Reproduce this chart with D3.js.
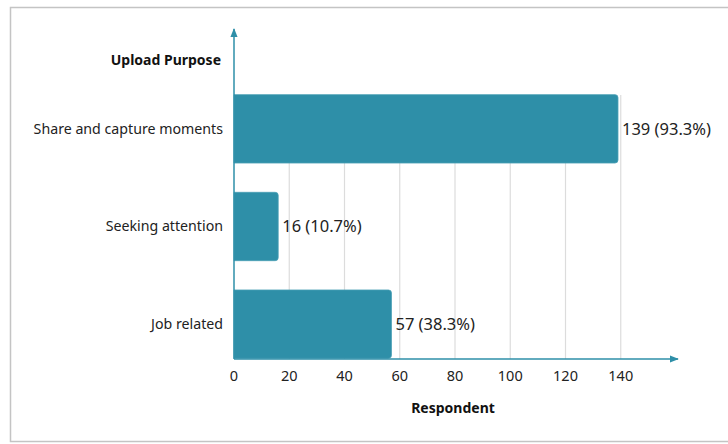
<!DOCTYPE html>
<html>
<head>
<meta charset="utf-8">
<script src="https://cdn.jsdelivr.net/npm/d3@7"></script>
<style>
  html, body { margin: 0; padding: 0; background: #fff; }
  svg { display: block; font-family: 'Noto Sans', sans-serif; }
</style>
</head>
<body>
<script>
const categories = ["Share and capture moments", "Seeking attention", "Job related"];
const counts = [139, 16, 57];
const percents = ["93.3%", "10.7%", "38.3%"];
const tickValues = [0, 20, 40, 60, 80, 100, 120, 140];

const W = 728, H = 444;
const svg = d3.select("body").append("svg").attr("width", W).attr("height", H);

// frame
svg.append("rect")
  .attr("x", 10.5).attr("y", 7.5).attr("width", 730).attr("height", 434)
  .attr("fill", "none").attr("stroke", "#c4c4c4").attr("stroke-width", 1.5);

const x0 = 234, yBottom = 359;
const x = d3.scaleLinear().domain([0, 160]).range([x0, 676]);
const y = d3.scaleBand().domain(categories).range([80, 373]).paddingInner(0.3).paddingOuter(0.15);

const teal = "#2e8fa8";
const g = svg.append("g");

// gridlines
g.append("g").selectAll("line")
  .data(tickValues.slice(1))
  .join("line")
  .attr("x1", d => x(d)).attr("x2", d => x(d))
  .attr("y1", 95).attr("y2", yBottom)
  .attr("stroke", "#dcdcdc").attr("stroke-width", 1.2);

// bars with rounded right corners
const r = 3;
g.append("g").selectAll("path")
  .data(categories)
  .join("path")
  .attr("d", (c, i) => {
    const x1 = x(0), x2 = x(counts[i]);
    const t = y(c), b = y(c) + y.bandwidth();
    return `M${x1},${t}H${x2 - r}Q${x2},${t} ${x2},${t + r}V${b - r}Q${x2},${b} ${x2 - r},${b}H${x1}Z`;
  })
  .attr("fill", teal)
  .attr("stroke", "#4a9fb5").attr("stroke-width", 0.8);

// bar value labels
g.append("g").selectAll("text")
  .data(categories)
  .join("text")
  .attr("x", (c, i) => x(counts[i]) + 4)
  .attr("y", c => y(c) + y.bandwidth() / 2)
  .attr("dy", "0.35em")
  .attr("font-size", 16.5)
  .attr("fill", "#222")
  .text((c, i) => `${counts[i]} (${percents[i]})`);

// category labels
g.append("g").selectAll("text")
  .data(categories)
  .join("text")
  .attr("x", 223)
  .attr("y", c => y(c) + y.bandwidth() / 2)
  .attr("dy", "0.35em")
  .attr("text-anchor", "end")
  .attr("font-size", 14.2)
  .attr("fill", "#222")
  .text(c => c);

// axes
const defs = svg.append("defs");
defs.append("marker")
  .attr("id", "arrow").attr("viewBox", "0 0 10 10")
  .attr("refX", 9).attr("refY", 5)
  .attr("markerWidth", 6).attr("markerHeight", 6)
  .attr("orient", "auto")
  .append("path").attr("d", "M0,1L10,5L0,9Z").attr("fill", teal);

svg.append("line")
  .attr("x1", x0).attr("y1", yBottom).attr("x2", x(160) + 2).attr("y2", yBottom)
  .attr("stroke", teal).attr("stroke-width", 1.5).attr("marker-end", "url(#arrow)");
svg.append("line")
  .attr("x1", x0).attr("y1", yBottom).attr("x2", x0).attr("y2", 29)
  .attr("stroke", teal).attr("stroke-width", 1.5).attr("marker-end", "url(#arrow)");

// tick labels
svg.append("g").selectAll("text")
  .data(tickValues)
  .join("text")
  .attr("x", d => x(d))
  .attr("y", 381)
  .attr("text-anchor", "middle")
  .attr("font-size", 14.5)
  .attr("fill", "#222")
  .text(d => d);

// axis titles
svg.append("text")
  .attr("x", 221).attr("y", 65)
  .attr("text-anchor", "end")
  .attr("font-size", 14).attr("font-weight", "bold").attr("fill", "#111")
  .text("Upload Purpose");
svg.append("text")
  .attr("x", 453).attr("y", 413)
  .attr("text-anchor", "middle")
  .attr("font-size", 14).attr("font-weight", "bold").attr("fill", "#111")
  .text("Respondent");
</script>
</body>
</html>
